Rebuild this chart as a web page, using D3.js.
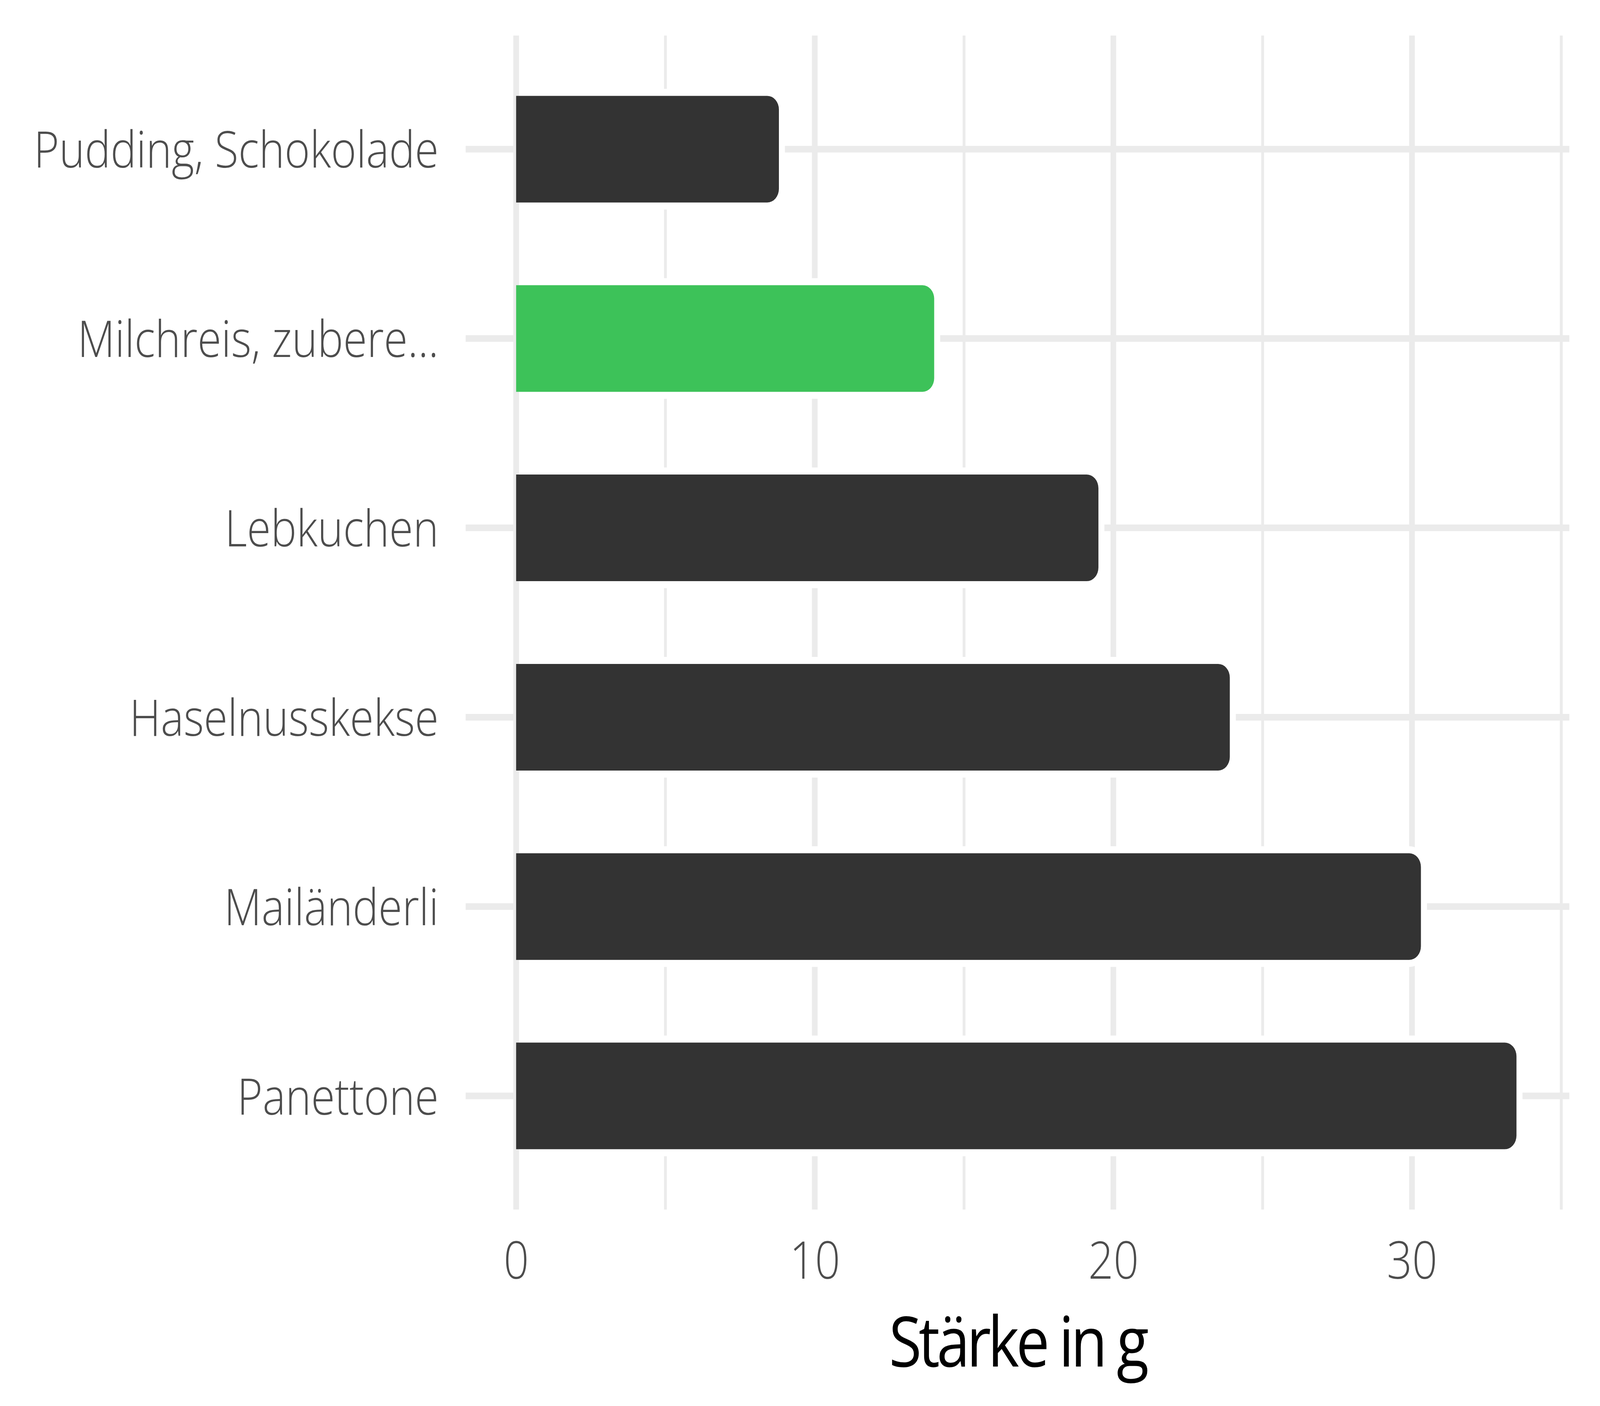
<!DOCTYPE html>
<html>
<head>
<meta charset="utf-8">
<script src="https://cdn.jsdelivr.net/npm/d3@7"></script>
<style>
  html, body { margin: 0; padding: 0; background: #fff; overflow: hidden; }
  svg { display: block; width: 100vw; height: 100vh; }
  text { font-family: 'Open Sans', sans-serif; }
</style>
</head>
<body>
<svg id="chart"></svg>
<script>
const categories = ['Pudding, Schokolade', 'Milchreis, zubere...', 'Lebkuchen', 'Haselnusskekse', 'Mailänderli', 'Panettone'];
const values = [8.8, 14.0, 19.5, 23.9, 30.3, 33.5];
const highlight = ['Milchreis, zubere...'];
const majorTicks = [0, 10, 20, 30];
const minorTicks = [5, 15, 25, 35];
const xTitle = 'Stärke in g';

const width = 4800, height = 3600;
const margin = { top: 91, left: 1397, right: 92, bottom: 503 };
const iwidth = width - margin.left - margin.right;
const iheight = height - margin.top - margin.bottom;

// the window may be narrower than 4800, so stretch the 4800x3600 drawing to fill it
const svg = d3.select('#chart')
  .attr('viewBox', `0 0 ${width} ${height}`)
  .attr('preserveAspectRatio', 'none');
const g = svg.append('g').attr('transform', `translate(${margin.left},${margin.top})`);

const data = categories.map((name, i) => ({ name, value: values[i] }));

const x = d3.scaleLinear().domain([-1.69, 35.27]).range([0, iwidth]);
const y = d3.scalePoint().domain(categories).range([0, iheight]).padding(0.6);
const barH = y.step() * 0.563;
const r = 35;
const gap = 18;

const grid = '#EBEBEB';

// vertical grid
g.selectAll('.minor').data(minorTicks).enter().append('line')
  .attr('x1', d => x(d)).attr('x2', d => x(d))
  .attr('y1', 0).attr('y2', iheight)
  .style('stroke', grid).style('stroke-width', 8.5);
g.selectAll('.major').data(majorTicks).enter().append('line')
  .attr('x1', d => x(d)).attr('x2', d => x(d))
  .attr('y1', 0).attr('y2', iheight)
  .style('stroke', grid).style('stroke-width', 17);
// horizontal grid
g.selectAll('.hgrid').data(categories).enter().append('line')
  .attr('x1', 0).attr('x2', iwidth)
  .attr('y1', d => y(d)).attr('y2', d => y(d))
  .style('stroke', grid).style('stroke-width', 17);

// white halo around bars
g.selectAll('.halo').data(data).enter().append('rect')
  .attr('x', x(0) - 8)
  .attr('y', d => y(d.name) - barH / 2 - gap)
  .attr('width', d => x(d.value) - x(0) + 8 + gap)
  .attr('height', barH + 2 * gap)
  .attr('rx', r + gap).attr('ry', r + gap)
  .style('fill', '#fff');

// zero line stays visible
g.append('line')
  .attr('x1', x(0)).attr('x2', x(0)).attr('y1', 0).attr('y2', iheight)
  .style('stroke', grid).style('stroke-width', 17);

// bars: square left, rounded right
function barPath(d) {
  const x0 = x(0), x1 = x(d.value);
  const t = y(d.name) - barH / 2, b = y(d.name) + barH / 2;
  return `M${x0},${t}H${x1 - r}A${r},${r} 0 0 1 ${x1},${t + r}V${b - r}A${r},${r} 0 0 1 ${x1 - r},${b}H${x0}Z`;
}
g.selectAll('.bar').data(data).enter().append('path')
  .attr('class', 'bar')
  .attr('d', barPath)
  .style('fill', d => highlight.includes(d.name) ? '#3DC259' : '#333333');

// x axis labels
const xAxis = g.append('g')
  .attr('transform', `translate(0,${iheight})`)
  .call(d3.axisBottom(x).tickValues(majorTicks).tickSize(0).tickFormat(d3.format('d')));
xAxis.select('.domain').remove();
xAxis.selectAll('text')
  .attr('y', 177).attr('dy', 0)
  .style('font-size', '133px').style('font-weight', 300)
  .style('fill', '#4D4D4D').style('font-family', "'Open Sans', sans-serif");

// y axis labels
const yAxis = g.append('g')
  .call(d3.axisLeft(y).tickSize(0).tickPadding(81));
yAxis.select('.domain').remove();
yAxis.selectAll('text')
  .attr('dy', 0).attr('y', 47)
  .style('font-size', '130px').style('font-weight', 300)
  .style('fill', '#4D4D4D').style('font-family', "'Open Sans', sans-serif");

// axis title
g.append('text')
  .attr('x', iwidth / 2)
  .attr('y', iheight + 402)
  .attr('text-anchor', 'middle')
  .style('font-size', '178px')
  .style('letter-spacing', '-9px')
  .style('fill', '#000')
  .text(xTitle);
</script>
</body>
</html>
